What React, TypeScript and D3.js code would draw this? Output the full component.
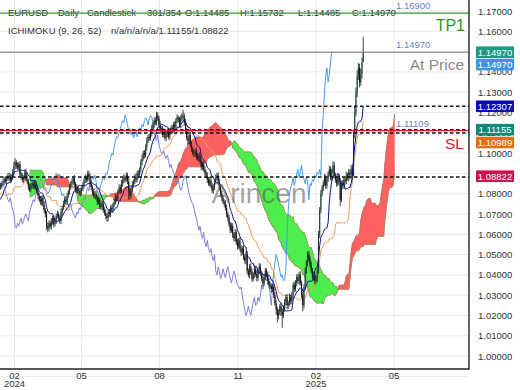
import React from "react";
import * as d3 from "d3";

// ---------- DATA ----------
// 354 bars in all: 53 bars of history before the first visible bar, then 301 visible bars
const PRE = 53;
const VISIBLE = 301;
// closes in pips above 1.0000
const closePips: number[] = [
  // history (not drawn, feeds the indicator)
  870,
  875, 990, 895, 925, 980, 945, 1010, 1010, 1030, 1105,
  1060, 1040, 940, 920, 945, 955, 950, 935, 970, 975,
  970, 950, 950, 880, 880, 875, 895, 855, 885, 885,
  845, 850, 835, 845, 820, 820, 785, 745, 755, 770,
  780, 785, 765, 710, 725, 730, 775, 780, 820, 825,
  820, 830,
  // visible
  840, 852, 858, 870, 862, 880, 875, 888, 868, 882,
  905, 935, 955, 940, 930, 945, 895, 885, 870,
  880, 905, 870, 860, 835, 820, 840, 850, 835, 845,
  830, 810, 790, 770, 760, 780, 745, 720, 700,
  640, 630, 655, 640, 660, 680, 650, 665, 690, 700,
  680, 665, 710, 730, 750, 770, 760, 790, 810,
  830, 850, 860, 875, 845, 820, 830, 815, 800, 810,
  825, 840, 865, 880, 870, 900, 880, 850, 830,
  810, 790, 800, 780, 760, 770, 740, 735, 750, 720,
  705, 690, 680, 710, 700, 730, 720, 745, 760,
  780, 775, 810, 830, 815, 850, 865, 880, 870, 890,
  860, 815, 790, 820, 845, 860, 880, 870, 900,
  895, 920, 955, 975, 1000, 990, 1030, 1060, 1080, 1075,
  1100, 1120, 1140, 1160, 1150, 1185, 1170, 1140, 1110,
  1120, 1090, 1105, 1075, 1095, 1110, 1080, 1105, 1125, 1115,
  1140, 1130, 1160, 1175, 1165, 1140, 1170, 1185, 1180,
  1150, 1110, 1075, 1060, 1090, 1040, 1020, 1000, 995, 1010,
  985, 975, 990, 960, 930, 945, 920, 905, 890,
  870, 850, 865, 840, 815, 830, 860, 880, 890, 860,
  830, 800, 780, 760, 750, 730, 700, 680, 650,
  620, 640, 600, 580, 610, 560, 540, 570, 530, 510,
  530, 490, 470, 500, 420, 400, 440, 415, 380,
  400, 430, 405, 385, 420, 440, 410, 380, 360, 390,
  420, 400, 370, 350, 345, 330, 340, 300, 260,
  230, 200, 215, 245, 220, 200, 235, 265, 290, 250,
  260, 290, 270, 300, 350, 330, 360, 390, 370,
  400, 360, 300, 250, 340, 420, 460, 500, 480, 450,
  420, 390, 400, 370, 380, 420, 600, 720, 800, 830,
  850, 880, 840, 870, 900, 920, 880, 910, 940, 890,
  870, 850, 880, 860, 770, 850, 840, 870, 860, 890, 880, 905,
  895, 920, 890, 1100, 1200, 1300, 1380, 1420, 1350, 1390, 1448.5, 1497,
];
// upper wick above the body, pips
const wickUpPips: number[] = [
  10,
  12, 25, 18, 10, 15, 22, 14, 9, 20, 34,
  15, 18, 22, 12, 9, 16, 20, 11, 14, 18,
  10, 24, 13, 17, 8, 19, 12, 15, 21, 9,
  14, 11, 18, 16, 12, 20, 9, 13, 17, 22,
  15, 12, 18, 10, 14, 16, 11, 19, 13, 20,
  12, 15,
  14, 10, 18, 12, 16, 9, 20, 15, 11, 13,
  16, 22, 20, 12, 14, 10, 15, 12, 17, 11,
  14, 19, 10, 13, 16, 12, 9, 15, 18, 12,
  16, 10, 14, 19, 11, 13, 17, 10, 15, 18,
  12, 15, 20, 11, 14, 17, 12, 16, 10, 13,
  17, 11, 15, 12, 18, 14, 10, 16, 12, 15,
  11, 18, 13, 16, 10, 14, 19, 12, 15, 12,
  16, 10, 14, 13, 18, 16, 11, 15, 13, 17,
  12, 15, 10, 14, 16, 11, 13, 18, 12, 10,
  15, 12, 17, 11, 14, 19, 13, 10, 16, 14,
  18, 12, 16, 10, 15, 13, 17, 12, 14, 16,
  11, 15, 20, 13, 17, 10, 14, 18, 12, 15,
  13, 18, 11, 16, 14, 19, 12, 15, 17, 18,
  16, 14, 18, 11, 15, 18, 13, 16, 12, 14,
  18, 11, 15, 13, 17, 12, 16, 10, 14, 16,
  12, 28, 15, 18, 14, 11, 17, 13, 20, 13,
  17, 12, 18, 15, 11, 16, 14, 12, 17, 15,
  11, 16, 13, 18, 12, 14, 17, 11, 15, 12,
  16, 14, 11, 17, 15, 13, 18, 16, 12, 14,
  12, 17, 15, 11, 16, 13, 18, 12, 15, 16,
  13, 18, 12, 15, 17, 11, 14, 16, 13, 12,
  17, 14, 16, 13, 18, 15, 11, 17, 14, 15,
  12, 16, 14, 18, 13, 17, 12, 15, 16, 13,
  16, 12, 18, 14, 15, 17, 13, 16, 12, 18,
  14, 16, 12, 17, 15, 13, 16, 14, 18, 12,
  16, 14, 17, 13, 15, 18, 12, 16, 14, 15,
  13, 17, 12, 16, 14, 18, 13, 15, 17, 14,
  16, 12, 18, 15, 13, 20, 17, 14, 16, 18,
  13, 16, 14, 17, 12, 15, 18, 13, 16, 14,
  20, 25, 18, 30, 22, 28, 24, 20, 26, 22,
  76.2,
];
// lower wick below the body, pips
const wickDnPips: number[] = [
  12,
  10, 15, 20, 12, 14, 18, 11, 16, 13, 15,
  18, 12, 16, 14, 20, 11, 15, 13, 17, 12,
  14, 16, 12, 18, 13, 15, 19, 11, 14, 16,
  12, 17, 14, 11, 16, 13, 18, 15, 12, 14,
  16, 12, 15, 18, 13, 14, 11, 17, 12, 15,
  13, 16,
  11, 15, 9, 16, 12, 18, 10, 13, 17, 12,
  14, 10, 16, 18, 12, 13, 11, 17, 14, 16,
  12, 10, 15, 18, 11, 14, 17, 12, 13, 13,
  11, 17, 12, 15, 18, 10, 14, 16, 19, 20,
  15, 12, 17, 13, 16, 11, 15, 12, 14, 12,
  15, 18, 11, 14, 13, 17, 12, 15, 11, 13,
  16, 12, 15, 18, 14, 11, 13, 17, 12, 15,
  12, 17, 11, 14, 16, 13, 18, 12, 15, 12,
  16, 11, 15, 13, 17, 14, 12, 16, 18, 17,
  13, 16, 12, 15, 11, 14, 17, 13, 12, 15,
  12, 17, 13, 16, 11, 14, 45, 18, 13, 14,
  16, 12, 15, 13, 17, 11, 14, 16, 12, 16,
  13, 17, 11, 15, 14, 18, 12, 16, 13, 15,
  12, 16, 14, 18, 11, 15, 13, 17, 16, 12,
  15, 13, 17, 11, 14, 16, 12, 15, 14, 17,
  11, 15, 13, 16, 12, 18, 14, 13, 15, 12,
  16, 14, 18, 13, 17, 12, 15, 14, 12, 16,
  13, 17, 11, 15, 14, 12, 16, 13, 14, 12,
  17, 13, 16, 15, 11, 14, 12, 17, 16, 13,
  15, 12, 17, 14, 16, 13, 15, 12, 13, 17,
  12, 16, 14, 18, 15, 12, 17, 14, 15, 12,
  16, 13, 18, 14, 17, 15, 12, 16, 14, 16,
  12, 17, 13, 15, 18, 14, 16, 12, 25, 35,
  18, 14, 22, 60, 13, 17, 15, 20, 18, 14,
  16, 13, 17, 15, 12, 16, 14, 18, 13, 16,
  30, 17, 14, 15, 18, 13, 16, 12, 16, 14,
  17, 12, 15, 13, 18, 16, 14, 17, 13, 17,
  15, 12, 16, 14, 18, 13, 15, 17, 16, 13,
  17, 30, 12, 18, 14, 16, 13, 15, 20, 25,
  18, 22, 5, 28, 16, 24, 20, 26, 18, 22,
  0,
];

const yTickValues = [0.99, 1.0, 1.01, 1.02, 1.03, 1.04, 1.05, 1.06, 1.07, 1.08, 1.09, 1.1, 1.11, 1.12, 1.13, 1.14, 1.15, 1.16, 1.17];
const xTickBars = [11.5, 67, 131.5, 196.5, 261, 325.5]; // visible bar index (the last one lies in the future)
const xTickMonths = ["02", "05", "08", "11", "02", "05"];
const xTickYears = ["2024", "", "", "", "2025", ""];

const headerItems = ["EURUSD", "Daily", "Candlestick", "301/354", "O:1.14485", "H:1.15732", "L:1.14485", "C:1.14970"];
const ichiTitle = "ICHIMOKU (9, 26, 52)";
const ichiValues = "n/a/n/a/n/a/1.11155/1.08822";

const tpLevel = 1.169;
const atPriceLevel = 1.1497;
const slLevel = 1.11109;
const dashedLevels = [1.12307, 1.11155, 1.10989, 1.08822];
const boxValues = [1.1497, 1.1497, 1.12307, 1.11155, 1.10989, 1.08822];
const boxTexts = ["1.14970", "1.14970", "1.12307", "1.11155", "1.10989", "1.08822"];

// ---------- STYLE ----------
const W = 520, H = 390;
const PLOT_R = 469, PLOT_B = 369;
const FONT = "'Liberation Sans', Arial, Helvetica, sans-serif";
const boxColors = ["#1b9a86", "#3b97e3", "#0b0bb4", "#14897a", "#e0700f", "#cc124e"];
const boxOffsets = [0, 12.3, 0, 0, 9.5, -0.8];
const headerX = [8, 58, 87, 147, 185, 240, 298, 352];

function midRange(hi: number[], lo: number[], period: number, i: number): number | null {
  if (i < period - 1) return null;
  let hh = -Infinity, ll = Infinity;
  for (let j = i - period + 1; j <= i; j++) {
    if (hi[j] > hh) hh = hi[j];
    if (lo[j] < ll) ll = lo[j];
  }
  return (hh + ll) / 2;
}

export default function App() {
  const N = closePips.length;
  const close = closePips.map((p) => 1 + p / 10000);
  const open = close.map((c, i) => (i === 0 ? c : close[i - 1]));
  const high = close.map((c, i) => Math.max(open[i], c) + (wickUpPips[i] ?? 0) / 10000);
  const low = close.map((c, i) => Math.min(open[i], c) - (wickDnPips[i] ?? 0) / 10000);

  const tenkan = close.map((_, i) => midRange(high, low, 9, i));
  const kijun = close.map((_, i) => midRange(high, low, 26, i));
  const spanB = close.map((_, i) => midRange(high, low, 52, i));
  const spanA = close.map((_, i) =>
    tenkan[i] != null && kijun[i] != null ? ((tenkan[i] as number) + (kijun[i] as number)) / 2 : null
  );

  const x = d3.scaleLinear().domain([PRE, PRE + VISIBLE - 1]).range([0.6, 363.2]);
  const y = d3.scaleLinear().domain([0.99, 1.17]).range([376.4, 11]);

  const lineGen = d3
    .line<{ k: number; v: number | null }>()
    .defined((d) => d.v != null)
    .x((d) => x(d.k))
    .y((d) => y(d.v as number));

  const tenkanPath = lineGen(tenkan.map((v, k) => ({ k, v }))) || "";
  const kijunPath = lineGen(kijun.map((v, k) => ({ k, v }))) || "";

  // cloud, displaced 26 bars forward
  const cloud: { k: number; a: number; b: number }[] = [];
  for (let i = 0; i < N; i++) {
    if (spanA[i] != null && spanB[i] != null) cloud.push({ k: i + 26, a: spanA[i] as number, b: spanB[i] as number });
  }
  let redPath = "", greenPath = "";
  for (let i = 0; i < cloud.length - 1; i++) {
    const p = cloud[i], q = cloud[i + 1];
    const x0 = x(p.k), x1 = x(q.k);
    const seg = `M${x0},${y(p.a)}L${x1},${y(q.a)}L${x1},${y(q.b)}L${x0},${y(p.b)}Z`;
    if (p.a + q.a >= p.b + q.b) redPath += seg;
    else greenPath += seg;
  }
  const cloudLine = d3.line<{ k: number; v: number }>().x((d) => x(d.k)).y((d) => y(d.v));
  const aPath = cloudLine(cloud.map((c) => ({ k: c.k, v: c.a }))) || "";
  const bPath = cloudLine(cloud.map((c) => ({ k: c.k, v: c.b }))) || "";

  // chikou, displaced 26 bars back, coloured by comparison with the price it sits on
  const chikouSegs: { d: string; up: boolean }[] = [];
  for (let i = 26; i < N - 1; i++) {
    const k0 = i - 26, k1 = i + 1 - 26;
    const up = close[i] >= close[k0];
    const last = chikouSegs[chikouSegs.length - 1];
    if (last && last.up === up) last.d += `L${x(k1)},${y(close[i + 1])}`;
    else chikouSegs.push({ d: `M${x(k0)},${y(close[i])}L${x(k1)},${y(close[i + 1])}`, up });
  }

  // candles
  let wicks = "", upBodies = "", dnBodies = "";
  for (let k = PRE - 1; k < N; k++) {
    const cx = x(k);
    wicks += `M${cx},${y(high[k])}V${y(low[k])}`;
    const top = y(Math.max(open[k], close[k]));
    const bot = Math.max(y(Math.min(open[k], close[k])), top + 1);
    const body = `M${cx - 0.55},${top}h1.1V${bot}h-1.1Z`;
    if (close[k] >= open[k]) upBodies += body;
    else dnBodies += body;
  }

  const gridY = yTickValues.map((v) => y(v));
  const smallText = { fontFamily: FONT, fontSize: 9.5 } as const;

  return (
    <svg width={W} height={H} style={{ position: "absolute", left: 0, top: 0, background: "#fff" }}>
      <defs>
        <clipPath id="plot">
          <rect x={0} y={0} width={PLOT_R} height={PLOT_B} />
        </clipPath>
        <clipPath id="axis">
          <rect x={PLOT_R} y={0} width={W - PLOT_R} height={PLOT_B} />
        </clipPath>
      </defs>
      <rect x={0} y={0} width={W} height={H} fill="#fff" />
      {/* grid */}
      <g stroke="#e9e9e9" strokeWidth={1}>
        {gridY.map((gy, i) => (
          <line key={i} x1={0} x2={PLOT_R} y1={gy} y2={gy} />
        ))}
        {xTickBars.map((b, i) => (
          <line key={"v" + i} x1={x(PRE + b)} x2={x(PRE + b)} y1={0} y2={PLOT_B} />
        ))}
      </g>

      <g clipPath="url(#plot)">
        {/* cloud */}
        <path d={greenPath} fill="#3ded3d" fillOpacity={0.85} stroke="#3ded3d" strokeWidth={0.3} />
        <path d={redPath} fill="#ff4f4f" fillOpacity={0.8} stroke="#ff4f4f" strokeWidth={0.3} />
        <path d={aPath} fill="none" stroke="#a8705a" strokeWidth={1} strokeOpacity={0.8} />
        <path d={bPath} fill="none" stroke="#9c8a55" strokeWidth={1} strokeOpacity={0.8} />
        {/* chikou */}
        {chikouSegs.map((s, i) => (
          <path key={i} d={s.d} fill="none" stroke={s.up ? "#4a9ae6" : "#7d7fe0"} strokeWidth={1} />
        ))}
        {/* kijun */}
        <path d={kijunPath} fill="none" stroke="#e99a55" strokeWidth={1} />
        {/* candles */}
        <path d={dnBodies} fill="#111" />
        <path d={upBodies} fill="#2a9070" />
        <path d={wicks} fill="none" stroke="#161616" strokeWidth={0.8} />
        {/* tenkan */}
        <path d={tenkanPath} fill="none" stroke="#12128c" strokeWidth={1} />

        {/* watermark */}
        <text x={259} y={203} textAnchor="middle" fontFamily={FONT} fontSize={28} fill="#555" fillOpacity={0.55}>
          Arincen
        </text>
      </g>

      {/* level lines */}
      <line x1={0} x2={PLOT_R} y1={y(atPriceLevel)} y2={y(atPriceLevel)} stroke="#777" strokeWidth={1} />
      {dashedLevels.map((v, i) => (
        <line key={i} x1={0} x2={PLOT_R} y1={y(v)} y2={y(v)} stroke="#111" strokeWidth={1.3} strokeDasharray="3.5,2.5" />
      ))}
      <line x1={0} x2={PLOT_R} y1={y(slLevel)} y2={y(slLevel)} stroke="#d81e1e" strokeWidth={1.3} />

      {/* header */}
      <g {...smallText} fill="#333">
        {headerItems.map((t, i) => (
          <text key={i} x={headerX[i]} y={15.5}>
            {t}
          </text>
        ))}
        <text x={8} y={33.5}>{ichiTitle}</text>
        <text x={111} y={33.5}>{ichiValues}</text>
      </g>
      <line x1={0} x2={PLOT_R} y1={y(tpLevel)} y2={y(tpLevel)} stroke="#2c9a2c" strokeWidth={1.3} />

      {/* level texts */}
      <g {...smallText} fill="#6a7fbf">
        <text x={396} y={y(tpLevel) - 4}>{tpLevel.toFixed(5)}</text>
        <text x={396} y={y(atPriceLevel) - 4}>{atPriceLevel.toFixed(5)}</text>
        <text x={396} y={y(slLevel) - 4}>{slLevel.toFixed(5)}</text>
      </g>
      <text x={465} y={31} textAnchor="end" fontFamily={FONT} fontSize={16} fill="#2a962a">TP1</text>
      <text x={464} y={70} textAnchor="end" fontFamily={FONT} fontSize={15.5} fill="#8a8a8a">At Price</text>
      <text x={464} y={149} textAnchor="end" fontFamily={FONT} fontSize={15.5} fill="#d82020">SL</text>

      {/* right axis */}
      <g clipPath="url(#axis)" {...smallText} fill="#333">
        {yTickValues.map((v, i) => (
          <text key={i} x={478} y={y(v) + 3.5}>
            {v.toFixed(5)}
          </text>
        ))}
        {boxValues.map((v, i) => {
          const cy = y(v) + boxOffsets[i];
          return (
            <g key={"b" + i}>
              <rect x={476} y={cy - 5.8} width={38} height={11.6} fill={boxColors[i]} />
              <text x={495} y={cy + 3.4} textAnchor="middle" fill="#fff">
                {boxTexts[i]}
              </text>
            </g>
          );
        })}
      </g>

      {/* axes lines */}
      <line x1={PLOT_R} x2={PLOT_R} y1={0} y2={PLOT_B + 0.7} stroke="#222" strokeWidth={1.4} />
      <line x1={0} x2={PLOT_R} y1={PLOT_B} y2={PLOT_B} stroke="#222" strokeWidth={1.4} />

      {/* x axis labels */}
      <g {...smallText} fill="#333" textAnchor="middle">
        {xTickBars.map((b, i) => (
          <g key={i}>
            <text x={x(PRE + b)} y={378.5}>{xTickMonths[i]}</text>
            {xTickYears[i] && <text x={x(PRE + b)} y={387}>{xTickYears[i]}</text>}
          </g>
        ))}
      </g>
    </svg>
  );
}
